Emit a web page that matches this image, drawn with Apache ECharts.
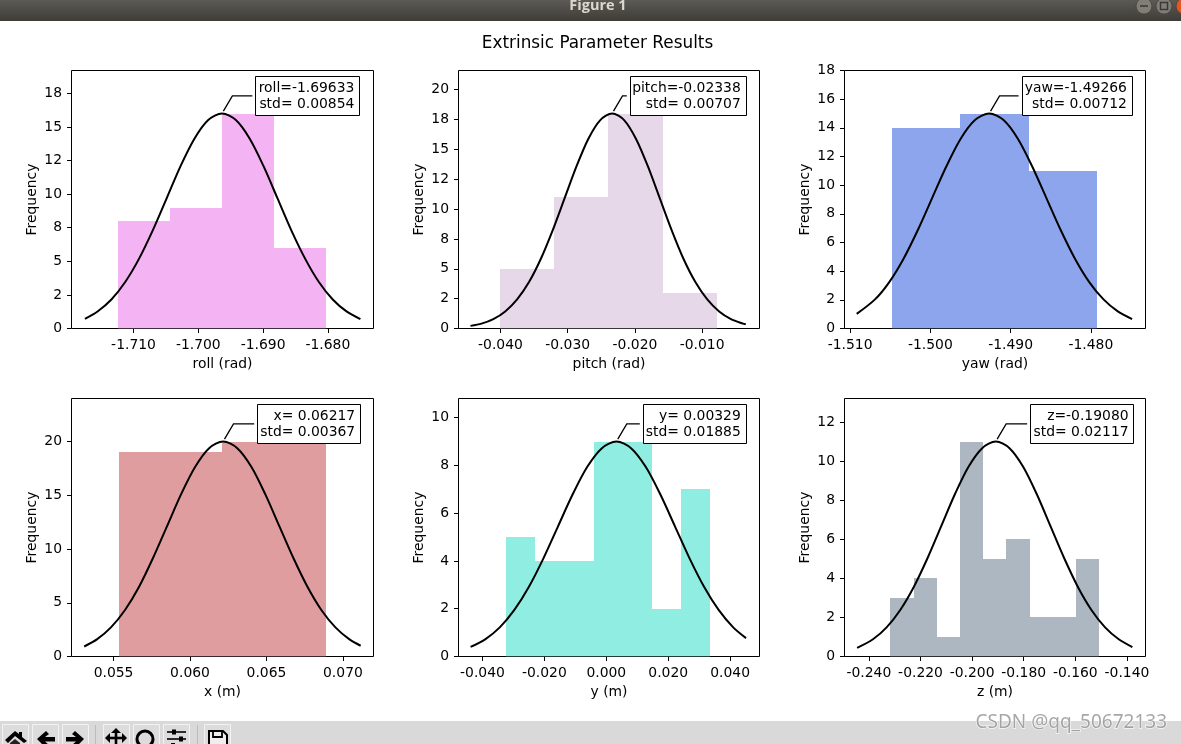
<!DOCTYPE html>
<html><head><meta charset="utf-8">
<style>html,body{margin:0;padding:0;background:#fff}#c{width:1181px;height:744px}</style>
<script src="https://cdn.jsdelivr.net/npm/echarts@6/dist/echarts.min.js"></script>
</head><body><div id="c"></div>
<script>
const figureTitle = 'Extrinsic Parameter Results';
const windowTitle = 'Figure 1';
const watermark = 'CSDN @qq_50672133';

// ---- roll ----
const rollEdges = [-1.71236,-1.70434,-1.69632,-1.68830,-1.68028];
const rollCounts = [8,9,16,6];
const rollCurveX = [-1.7175,-1.71555,-1.71341,-1.71128,-1.70914,-1.70701,-1.70487,-1.70274,-1.7006,-1.69847,-1.69633,-1.6942,-1.69206,-1.68993,-1.68779,-1.68566,-1.68352,-1.68139,-1.67925,-1.67712,-1.67498];
const rollCurveY = [0.72,1.27,2.16,3.46,5.2,7.32,9.7,12.08,14.12,15.51,16,15.51,14.12,12.08,9.7,7.32,5.2,3.46,2.16,1.27,0.7];
const rollXTicks = [-1.71,-1.7,-1.69,-1.68];
const rollNote = 'roll=-1.69633\nstd= 0.00854';
// ---- pitch ----
const pitchEdges = [-0.0400,-0.0320,-0.0240,-0.0158,-0.0078];
const pitchCounts = [5,11,18,3];
const pitchCurveX = [-0.04446,-0.04282,-0.04106,-0.03929,-0.03752,-0.03575,-0.03399,-0.03222,-0.03045,-0.02868,-0.02692,-0.02515,-0.02338,-0.02161,-0.01985,-0.01808,-0.01631,-0.01454,-0.01278,-0.01101,-0.00924,-0.00747,-0.00571,-0.00394,-0.00351];
const pitchCurveY = [0.22,0.41,0.79,1.43,2.44,3.89,5.84,8.24,10.92,13.59,15.89,17.45,18,17.45,15.89,13.59,10.92,8.24,5.84,3.89,2.44,1.43,0.79,0.41,0.35];
const pitchXTicks = [-0.04,-0.03,-0.02,-0.01];
const pitchNote = 'pitch=-0.02338\nstd= 0.00707';
// ---- yaw ----
const yawEdges = [-1.50476,-1.49628,-1.48768,-1.4792];
const yawCounts = [14,15,11];
const yawCurveX = [-1.50918,-1.5069,-1.50512,-1.50334,-1.50156,-1.49978,-1.498,-1.49622,-1.49444,-1.49266,-1.49088,-1.4891,-1.48732,-1.48554,-1.48376,-1.48198,-1.4802,-1.47842,-1.47664,-1.47486];
const yawCurveY = [1.02,2.03,3.24,4.87,6.87,9.1,11.32,13.24,14.54,15,14.54,13.24,11.32,9.1,6.87,4.87,3.24,2.03,1.19,0.66];
const yawXTicks = [-1.51,-1.5,-1.49,-1.48];
const yawNote = 'yaw=-1.49266\nstd= 0.00712';
// ---- x ----
const xEdges = [0.05537,0.06211,0.06891];
const xCounts = [19,20];
const xCurveX = [0.05308,0.05391,0.05483,0.05575,0.05667,0.05758,0.0585,0.05942,0.06034,0.06125,0.06217,0.06309,0.06401,0.06492,0.06584,0.06676,0.06768,0.06859,0.06951,0.07043,0.07116];
const xCurveY = [0.93,1.59,2.71,4.33,6.49,9.16,12.13,15.1,17.65,19.38,20,19.38,17.65,15.1,12.13,9.16,6.49,4.33,2.71,1.59,1.0];
const xXTicks = [0.055,0.06,0.065,0.07];
const xNote = 'x= 0.06217\nstd= 0.00367';
// ---- y ----
const yEdges = [-0.03235,-0.023,-0.01355,-0.00397,0.00539,0.01474,0.0241,0.03345];
const yCounts = [5,4,4,9,9,2,7];
const yCurveX = [-0.04384,-0.03912,-0.03441,-0.0297,-0.02499,-0.02027,-0.01556,-0.01085,-0.00614,-0.00142,0.00329,0.008,0.01272,0.01743,0.02214,0.02685,0.03157,0.03628,0.04099,0.04514];
const yCurveY = [0.4,0.72,1.22,1.95,2.92,4.12,5.46,6.79,7.94,8.72,9,8.72,7.94,6.79,5.46,4.12,2.92,1.95,1.22,0.77];
const yXTicks = [-0.04,-0.02,0,0.02,0.04];
const yNote = 'y= 0.00329\nstd= 0.01885';
// ---- z ----
const zEdges = [-0.2317,-0.2227,-0.2137,-0.2047,-0.1957,-0.1867,-0.1777,-0.1687,-0.1597,-0.1507];
const zCounts = [3,4,1,11,5,6,2,2,5];
const zCurveX = [-0.24457,-0.23843,-0.23314,-0.22785,-0.22256,-0.21726,-0.21197,-0.20668,-0.20139,-0.19609,-0.1908,-0.18551,-0.18022,-0.17492,-0.16963,-0.16434,-0.15905,-0.15376,-0.14846,-0.14317,-0.13788];
const zCurveY = [0.44,0.88,1.49,2.38,3.57,5.04,6.67,8.3,9.71,10.66,11,10.66,9.71,8.3,6.67,5.04,3.57,2.38,1.49,0.88,0.48];
const zXTicks = [-0.24,-0.22,-0.2,-0.18,-0.16,-0.14];
const zNote = 'z=-0.19080\nstd= 0.02117';

// y tick labels (matplotlib rounds x.5 to even on these axes)
const fineYTicks = [0,2.5,5,7.5,10,12.5,15,17.5];
const fineYLabels = ['0','2','5','8','10','12','15','18'];
const pitchYTicks = [0,2.5,5,7.5,10,12.5,15,17.5,20];
const pitchYLabels = ['0','2','5','8','10','12','15','18','20'];
const yawYTicks = [0,2,4,6,8,10,12,14,16,18];
const xYTicks = [0,5,10,15,20];
const yYTicks = [0,2,4,6,8,10];
const zYTicks = [0,2,4,6,8,10,12];

const panels = [
 {edges:rollEdges,counts:rollCounts,cx:rollCurveX,cy:rollCurveY,xt:rollXTicks,yt:fineYTicks,yl:fineYLabels,note:rollNote,name:'roll (rad)',color:'#f4b3f2',
  left:71.5,top:70.5,w:302,xr:[-1.71957,-1.67296],ymax:19.2,mean:-1.69633,peak:16,dx:33.3,bw:104},
 {edges:pitchEdges,counts:pitchCounts,cx:pitchCurveX,cy:pitchCurveY,xt:pitchXTicks,yt:pitchYTicks,yl:pitchYLabels,note:pitchNote,name:'pitch (rad)',color:'#e6d8e8',
  left:458.5,top:70.5,w:301,xr:[-0.04624,-0.00147],ymax:21.6,mean:-0.02338,peak:18,dx:17.6,bw:116},
 {edges:yawEdges,counts:yawCounts,cx:yawCurveX,cy:yawCurveY,xt:yawXTicks,yt:yawYTicks,note:yawNote,name:'yaw (rad)',color:'#8da5ec',
  left:844.5,top:70.5,w:301,xr:[-1.5107,-1.47319],ymax:18,mean:-1.49266,peak:15,dx:32.3,bw:110.4},
 {edges:xEdges,counts:xCounts,cx:xCurveX,cy:xCurveY,xt:xXTicks,yt:xYTicks,note:xNote,name:'x (m)',color:'#e09d9f',
  left:71.5,top:398.5,w:302,xr:[0.05225,0.0720],ymax:24,mean:0.06217,peak:20,dx:34,bw:103},
 {edges:yEdges,counts:yCounts,cx:yCurveX,cy:yCurveY,xt:yXTicks,yt:yYTicks,note:yNote,name:'y (m)',color:'#8fede1',
  left:458.5,top:398.5,w:301,xr:[-0.04774,0.04948],ymax:10.8,mean:0.00329,peak:9,dx:26.3,bw:103},
 {edges:zEdges,counts:zCounts,cx:zCurveX,cy:zCurveY,xt:zXTicks,yt:zYTicks,note:zNote,name:'z (m)',color:'#acb7c1',
  left:844.5,top:398.5,w:301,xr:[-0.24946,-0.1328],ymax:13.2,mean:-0.1908,peak:11,dx:34.3,bw:103.4}
];
const plotH = 258;
const FONT = '"DejaVu Sans"', FS = 13.9;

const grids=[],xAxes=[],yAxes=[],series=[];
panels.forEach((p,i)=>{
  grids.push({left:p.left,top:p.top,width:p.w,height:plotH,show:true,borderColor:'#000',borderWidth:1,backgroundColor:'#fff',containLabel:false});
  xAxes.push({type:'value',gridIndex:i,min:p.xr[0],max:p.xr[1],name:p.name,nameLocation:'middle',nameGap:29,
    nameTextStyle:{fontFamily:FONT,fontSize:FS,color:'#000'},
    splitLine:{show:false},axisLine:{show:false,onZero:false},
    axisTick:{show:true,length:4.5,lineStyle:{color:'#000',width:1},customValues:p.xt},
    axisLabel:{color:'#000',fontFamily:FONT,fontSize:FS,margin:10,customValues:p.xt,formatter:v=>v.toFixed(3),hideOverlap:false}});
  yAxes.push({type:'value',gridIndex:i,min:0,max:p.ymax,name:'Frequency',nameLocation:'middle',nameGap:32,
    nameTextStyle:{fontFamily:FONT,fontSize:FS,color:'#000'},
    splitLine:{show:false},axisLine:{show:false,onZero:false},
    axisTick:{show:true,length:4.5,lineStyle:{color:'#000',width:1},customValues:p.yt},
    axisLabel:{color:'#000',fontFamily:FONT,fontSize:FS,margin:9.5,padding:[2,0,0,0],customValues:p.yt,
      formatter:v=>{ if(p.yl){const k=p.yt.indexOf(v);return k>=0?p.yl[k]:'';} return String(v);} }});
  series.push({type:'custom',xAxisIndex:i,yAxisIndex:i,z:2,silent:true,clip:true,
    data:p.counts.map((c,k)=>[p.edges[k],p.edges[k+1],c]),encode:{x:[0,1],y:2},
    renderItem:(params,api)=>{
      const a=api.coord([api.value(0),api.value(2)]),b=api.coord([api.value(1),0]);
      const x0=Math.round(a[0]),x1=Math.round(b[0]),y0=Math.round(a[1]);
      return {type:'rect',shape:{x:x0,y:y0,width:x1-x0,height:b[1]-y0},style:{fill:p.color}};
    }});
  series.push({type:'line',xAxisIndex:i,yAxisIndex:i,z:3,silent:true,showSymbol:false,smooth:0.3,
    lineStyle:{color:'#000',width:2},data:p.cx.map((x,k)=>[x,p.cy[k]])});
  series.push({type:'custom',xAxisIndex:i,yAxisIndex:i,z:4,silent:true,clip:false,
    data:[[p.mean,p.peak]],encode:{x:0,y:1},
    renderItem:(params,api)=>{
      const c=api.coord([api.value(0),api.value(1)]);
      const bx=c[0]+p.dx, by=c[1]-36.8, bh=39;
      return {type:'group',children:[
        {type:'polyline',shape:{points:[[c[0]+1.3,c[1]-2.3],[c[0]+10.3,c[1]-17.7],[bx-3,c[1]-17.7]]},style:{stroke:'#000',lineWidth:1.3,fill:null}},
        {type:'rect',shape:{x:Math.round(bx)+.5,y:Math.floor(by)+.5,width:Math.round(p.bw),height:bh},style:{fill:'#fff',stroke:'#000',lineWidth:1}},
        {type:'text',style:{x:bx+p.bw-5,y:Math.floor(by)+bh/2+.5,text:p.note,align:'right',verticalAlign:'middle',fill:'#000',font:FS+'px '+FONT,lineHeight:16}}
      ]};
    }});
});

// Window chrome: title bar and toolbar
const chrome=[
  {type:'rect',z:10,shape:{x:0,y:0,width:1181,height:21},style:{fill:new echarts.graphic.LinearGradient(0,0,0,1,[{offset:0,color:'#5c5a54'},{offset:1,color:'#3d3c37'}])}},
  {type:'text',z:11,style:{x:598,y:6,text:windowTitle,align:'center',verticalAlign:'middle',fill:'#dcd8cf',font:'bold 14.5px "Open Sans","DejaVu Sans"'}},
  {type:'circle',z:11,shape:{cx:1144,cy:6,r:8},style:{fill:'#807e77',stroke:'#4a4944',lineWidth:1}},
  {type:'circle',z:11,shape:{cx:1164,cy:6,r:8},style:{fill:'#807e77',stroke:'#4a4944',lineWidth:1}},
  {type:'circle',z:11,shape:{cx:1184,cy:6,r:8},style:{fill:'#e95420',stroke:'#4a4944',lineWidth:1}},
  {type:'line',z:12,shape:{x1:1140,y1:6,x2:1148,y2:6},style:{stroke:'#3a3935',lineWidth:1.5}},
  {type:'rect',z:12,shape:{x:1160.5,y:2.5,width:7,height:7},style:{fill:null,stroke:'#3a3935',lineWidth:1.5}},
  {type:'rect',z:10,shape:{x:0,y:721,width:1181,height:23},style:{fill:'#d9d9d9'}}
];
[[2,28],[32,58],[62,88],[103,129],[133,159],[163,189],[204,230]].forEach(b=>{
  chrome.push({type:'rect',z:11,shape:{x:b[0]+.5,y:724.5,width:b[1]-b[0],height:22},style:{fill:'#dcdcdc',stroke:'#f2f2f2',lineWidth:1}});
});
[95.5,197.5].forEach(x=>chrome.push({type:'line',z:11,shape:{x1:x,y1:725,x2:x,y2:744},style:{stroke:'#bcbcbc',lineWidth:1}}));
const icon=(pts,w,fill)=>({type:'polyline',z:12,shape:{points:pts},style:{stroke:'#000',lineWidth:w,fill:fill||null}});
chrome.push(
  {type:'polygon',z:12,shape:{points:[[5,740],[15,731],[19,734],[19,732],[22,732],[22,737],[27,741],[24,743],[15,736],[8,743]]},style:{fill:'#000'}},
  {type:'polygon',z:12,shape:{points:[[10,743],[15,739],[20,743],[20,745],[10,745]]},style:{fill:'#222'}},
  {type:'polygon',z:12,shape:{points:[[37,739],[46,731],[49,734],[45,737],[55,737],[55,741.5],[45,741.5],[49,745],[45,747]]},style:{fill:'#000'}},
  {type:'polygon',z:12,shape:{points:[[84,739],[75,731],[72,734],[76,737],[66,737],[66,741.5],[76,741.5],[72,745],[76,747]]},style:{fill:'#000'}},
  icon([[116,730],[116,746]],2.6),icon([[107,738],[125,738]],2.6),
  {type:'polygon',z:12,shape:{points:[[116,728],[111,733],[121,733]]},style:{fill:'#000'}},
  {type:'polygon',z:12,shape:{points:[[105,738],[110,733],[110,743]]},style:{fill:'#000'}},
  {type:'polygon',z:12,shape:{points:[[127,738],[122,733],[122,743]]},style:{fill:'#000'}},
  {type:'circle',z:12,shape:{cx:145,cy:739,r:8},style:{fill:null,stroke:'#000',lineWidth:3}},
  icon([[167,732],[186,732]],1.6),icon([[167,739],[186,739]],1.6),
  {type:'rect',z:12,shape:{x:172,y:729.5,width:4,height:5},style:{fill:'#000'}},
  {type:'rect',z:12,shape:{x:179,y:736.5,width:4,height:5},style:{fill:'#000'}},
  {type:'rect',z:12,shape:{x:171,y:743,width:4,height:2},style:{fill:'#000'}},
  {type:'polyline',z:12,shape:{points:[[209,746],[209,731],[223,731],[227,735],[227,746]]},style:{stroke:'#000',lineWidth:2,fill:'#eee'}},
  icon([[213,731],[213,737],[222,737],[222,731]],1.8),
  {type:'text',z:20,style:{x:1167,y:723,text:watermark,align:'right',verticalAlign:'middle',fill:'rgba(120,120,120,0.65)',stroke:'rgba(255,255,255,0.8)',lineWidth:1.5,font:'19px "Noto Sans","DejaVu Sans"'}}
);

const chart=echarts.init(document.getElementById('c'),null,{renderer:'canvas',width:1181,height:744});
chart.setOption({
  animation:false,backgroundColor:'#fff',
  title:{text:figureTitle,left:592.5,top:30,textAlign:'center',textStyle:{fontFamily:FONT,fontSize:16.85,fontWeight:'normal',color:'#000'}},
  grid:grids,xAxis:xAxes,yAxis:yAxes,series:series,graphic:chrome,tooltip:{show:false}
});
</script></body></html>
